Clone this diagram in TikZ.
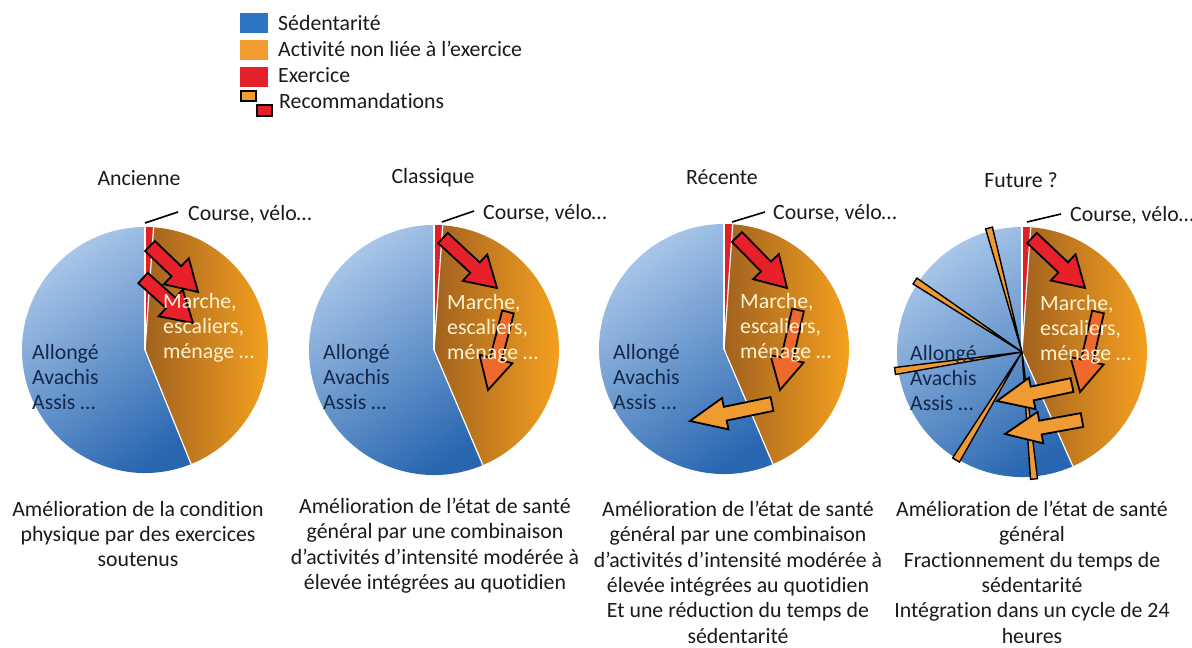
\documentclass[tikz,border=0pt]{standalone}
\usepackage{fontspec}
\setmainfont{Carlito}[Ligatures=NoCommon]
\usetikzlibrary{calc}
\definecolor{bluelight}{HTML}{ACC9EA}
\definecolor{bluemid}{HTML}{4283CB}
\definecolor{bluedark}{HTML}{2866B0}
\definecolor{orangedark}{HTML}{A2621F}
\definecolor{orangebright}{HTML}{F7A21F}
\definecolor{redslice}{HTML}{E31F26}
\definecolor{legblue}{HTML}{2F76C2}
\definecolor{legorange}{HTML}{F29B2E}
\definecolor{legred}{HTML}{E4202A}
\definecolor{cream}{HTML}{FFF2D2}
\definecolor{navy}{HTML}{15284A}
\definecolor{arrred}{HTML}{E8202A}
\definecolor{arrorred}{HTML}{EF6A2A}
\definecolor{arrorange}{HTML}{F09A32}
\definecolor{txt}{HTML}{1A1A1A}
\tikzset{
  lbl/.style={inner sep=0pt, font=\fontsize{21.8}{25.3}\selectfont, text=txt},
  desc/.style={lbl, align=center, anchor=north},
  inlight/.style={lbl, text=cream, align=left, anchor=west},
  indark/.style={lbl, text=navy, align=left, anchor=west},
  arrowedge/.style={draw=black, line width=1.8pt, line join=miter},
  sep/.style={draw=white, line width=1.2pt},
  leader/.style={draw=black, line width=1.6pt},
  wedgestyle/.style={draw=black, line width=1.4pt, fill=arrorange, line join=miter}
}
\newcommand\drawpie[4]{%
  \shade[top color=bluelight, middle color=bluemid, bottom color=bluedark, shading angle=35]
    (#1,#2) -- ++({-(#4)}:#3) arc[start angle={-(#4)}, end angle=270, radius=#3] -- cycle;
  \shade[left color=orangedark, right color=orangebright]
    (#1,#2) -- ++(-86:#3) arc[start angle=-86, end angle={-(#4)}, radius=#3] -- cycle;
  \fill[redslice] (#1,#2) -- ++(-90:#3) arc[start angle=-90, end angle=-86, radius=#3] -- cycle;
  \draw[sep] (#1,#2) -- ++(-90:#3);
  \draw[sep] (#1,#2) -- ++(-86:#3);
  \draw[sep] (#1,#2) -- ++({-(#4)}:#3);
}
\newcommand\blockarrow[8]{%
  \pgfmathsetmacro\bdx{#3-#1}%
  \pgfmathsetmacro\bdy{#4-#2}%
  \pgfmathsetmacro\bL{veclen(\bdx,\bdy)}%
  \pgfmathsetmacro\bux{\bdx/\bL}%
  \pgfmathsetmacro\buy{\bdy/\bL}%
  \pgfmathsetmacro\bB{\bL-#7}%
  \draw[arrowedge, fill=#8]
   ({#1-(\buy)*#5},{#2+(\bux)*#5}) --
   ({#1+(\bux)*\bB-(\buy)*#5},{#2+(\buy)*\bB+(\bux)*#5}) --
   ({#1+(\bux)*\bB-(\buy)*#6},{#2+(\buy)*\bB+(\bux)*#6}) --
   (#3,#4) --
   ({#1+(\bux)*\bB+(\buy)*#6},{#2+(\buy)*\bB-(\bux)*#6}) --
   ({#1+(\bux)*\bB+(\buy)*#5},{#2+(\buy)*\bB-(\bux)*#5}) --
   ({#1+(\buy)*#5},{#2-(\bux)*#5}) -- cycle;%
}
\begin{document}
\begin{tikzpicture}[x=1pt, y=-1pt]
\useasboundingbox (0,0) rectangle (1192,648);
\fill[white] (0,0) rectangle (1192,648);

% ---------- legend ----------
\fill[legblue] (240,13) rectangle (268,33);
\fill[legorange] (240,40) rectangle (268,60);
\fill[legred] (240,67) rectangle (268,87);
\draw[black, line width=2pt, fill=legorange] (241,91) rectangle (256,101);
\draw[black, line width=2pt, fill=legred] (257,105) rectangle (272,116);
\node[lbl, anchor=west] (lg1) at (278,23) {Sédentarité};
\node[lbl, anchor=west] (lg2) at (278,49) {Activité non liée à l’exercice};
\node[lbl, anchor=west] (lg3) at (278,75) {Exercice};
\node[lbl, anchor=west] (lg4) at (279,101) {Recommandations};

% ---------- pies ----------
\drawpie{145}{350}{123}{-68}
\drawpie{434}{350}{125}{-67}
\drawpie{724}{349}{125}{-67}
\drawpie{1022}{352}{125}{-66}

% future pie: thin orange wedges
\coordinate (C4) at (1022,352);
\coordinate (W1) at (989,228);
\coordinate (W2) at (915,281);
\coordinate (W3) at (895,371);
\coordinate (W4) at (956,460);
\coordinate (W5) at (1034,479);
\draw[wedgestyle] (C4) -- ($(W1)!3.5pt!90:(C4)$) -- ($(W1)!3.5pt!-90:(C4)$) -- cycle;
\draw[wedgestyle] (C4) -- ($(W2)!3.5pt!90:(C4)$) -- ($(W2)!3.5pt!-90:(C4)$) -- cycle;
\draw[wedgestyle] (C4) -- ($(W3)!3.5pt!90:(C4)$) -- ($(W3)!3.5pt!-90:(C4)$) -- cycle;
\draw[wedgestyle] (C4) -- ($(W4)!4pt!90:(C4)$) -- ($(W4)!4pt!-90:(C4)$) -- cycle;
\draw[wedgestyle] (C4) -- ($(W5)!3.5pt!90:(C4)$) -- ($(W5)!3.5pt!-90:(C4)$) -- cycle;

% ---------- arrows ----------
% Ancienne
\blockarrow{150}{246}{198}{292}{7}{18}{30}{arrred}
\blockarrow{143}{278}{193}{323}{7}{18}{30}{arrred}
% Classique
\blockarrow{443}{238}{497}{288}{7}{18}{30}{arrred}
\blockarrow{508}{312}{488}{390}{6}{17}{32}{arrorred}
% Recente
\blockarrow{737}{237}{787}{288}{7}{18}{30}{arrred}
\blockarrow{798}{310}{780}{390}{6}{17}{32}{arrorred}
\blockarrow{772}{404}{690}{421}{7}{16}{36}{arrorange}
% Future
\blockarrow{1032}{238}{1085}{288}{7}{18}{30}{arrred}
\blockarrow{1098}{312}{1080}{392}{6}{17}{32}{arrorred}
\blockarrow{1072}{385}{997}{401}{7}{16}{36}{arrorange}
\blockarrow{1082}{420}{1005}{434}{7}{16}{36}{arrorange}

% ---------- titles ----------
\node[lbl] (t1) at (139,178) {Ancienne};
\node[lbl] (t2) at (433,178) {Classique};
\node[lbl] (t3) at (722,177) {Récente};
\node[lbl] (t4) at (1021,180) {Future ?};

% ---------- course labels ----------
\node[lbl, anchor=west] (c1) at (188,214) {Course, vélo…};
\node[lbl, anchor=west] (c2) at (483,213) {Course, vélo…};
\node[lbl, anchor=west] (c3) at (773,213) {Course, vélo…};
\node[lbl, anchor=west] (c4) at (1070,215) {Course, vélo…};
\draw[leader] (145,223) -- ([xshift=-10pt,yshift=2pt]c1.west);
\draw[leader] (442,222) -- ([xshift=-9pt,yshift=2pt]c2.west);
\draw[leader] (732,222) -- ([xshift=-8pt,yshift=1pt]c3.west);
\draw[leader] (1027,222) -- ([xshift=-9pt,yshift=1pt]c4.west);

% ---------- inner labels ----------
\node[inlight] (m1) at (163,328) {Marche,\\escaliers,\\ménage …};
\node[inlight] (m2) at (447,329) {Marche,\\escaliers,\\ménage …};
\node[inlight] (m3) at (740,328) {Marche,\\escaliers,\\ménage …};
\node[inlight] (m4) at (1040,330) {Marche,\\escaliers,\\ménage …};
\node[indark] (s1) at (32,377) {Allongé\\Avachis\\Assis …};
\node[indark] (s2) at (323,377) {Allongé\\Avachis\\Assis …};
\node[indark] (s3) at (613,377) {Allongé\\Avachis\\Assis …};
\node[indark] (s4) at (910,378) {Allongé\\Avachis\\Assis …};

% ---------- descriptions ----------
\node[desc] (d1) at (138,501) {Amélioration de la condition\\physique par des exercices\\soutenus};
\node[desc] (d2) at (435,498) {Amélioration de l’état de santé\\général par une combinaison\\d’activités d’intensité modérée à\\élevée intégrées au quotidien};
\node[desc] (d3) at (738,501) {Amélioration de l’état de santé\\général par une combinaison\\d’activités d’intensité modérée à\\élevée intégrées au quotidien\\Et une réduction du temps de\\sédentarité};
\node[desc] (d4) at (1032,501) {Amélioration de l’état de santé\\général\\Fractionnement du temps de\\sédentarité\\Intégration dans un cycle de 24\\heures};
\end{tikzpicture}
\end{document}
